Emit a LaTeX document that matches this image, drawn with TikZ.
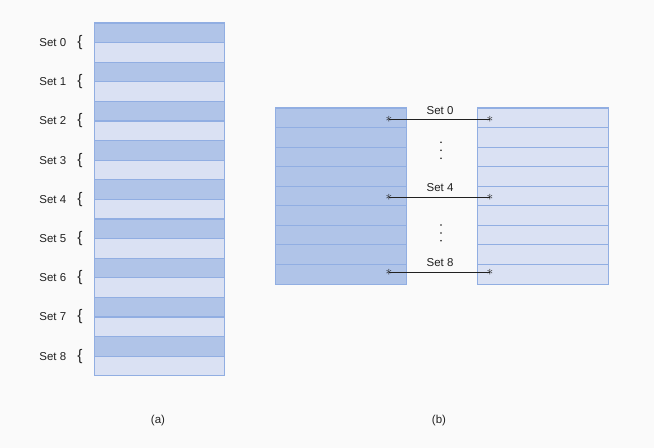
\documentclass[tikz,border=0pt]{standalone}
\usepackage{fontspec}
\setmainfont{Liberation Sans}
\usetikzlibrary{positioning}
\definecolor{BG}{RGB}{250,250,250}
\definecolor{DB}{RGB}{176,196,232}
\definecolor{LB}{RGB}{218,225,243}
\definecolor{EB}{RGB}{145,174,226}
\definecolor{TX}{RGB}{33,33,33}

\begin{document}
\begin{tikzpicture}[x=0.75pt, y=-0.75pt,
  row/.style={draw=EB, line width=0.8pt, inner sep=0pt, outer sep=0pt,
              minimum width=98pt, minimum height=14.7pt},
  setlabel/.style={font=\fontsize{8.6}{10}\selectfont, text=TX, inner sep=1pt},
  brace/.style={font=\fontsize{11.5}{12}\selectfont, text=TX, inner sep=0pt},
  starmark/.style={inner sep=0pt, font=\normalsize, text=TX},
  link/.style={draw=TX, line width=0.6pt},
  caption/.style={font=\fontsize{8.6}{10}\selectfont, text=TX}
]
\fill[BG] (0,0) rectangle (654,448);
\useasboundingbox (0,0) rectangle (654,448);

% (a) nine sets, two lines each
\foreach \s in {0,...,8} {
  \node[row, fill=DB] (A\s-top) at (159.5, 32.8+39.2*\s) {};
  \node[row, fill=LB] (A\s-bot) at (159.5, 52.4+39.2*\s) {};
  \node[brace] (Br\s) at (80, 42.6+39.2*\s) {\{};
  \node[setlabel, left=7pt of Br\s] (S\s) {Set \s};
}

% (b) two arrays of nine lines
\foreach \i in {0,...,8} {
  \node[row, fill=DB] (B\i) at (341, 117.8+19.56*\i) {};
  \node[row, fill=LB] (C\i) at (543, 117.8+19.56*\i) {};
}

\foreach \i/\y in {0/119.5, 4/197, 8/272} {
  \node[starmark] (P\i) at (389, \y) {$\ast$};
  \node[starmark] (Q\i) at (490, \y) {$\ast$};
  \draw[link] (P\i.center) -- (Q\i.center);
  \node[setlabel] (T\i) at (440, \y-9) {Set \i};
}

% dots between the sets
\foreach \y in {142.3, 150.3, 158.3, 225, 233, 240.7}
  \fill[TX] (441, \y) circle (0.9);

\node[caption] (capA) at (158, 421) {(a)};
\node[caption] (capB) at (439, 421) {(b)};
\end{tikzpicture}
\end{document}
